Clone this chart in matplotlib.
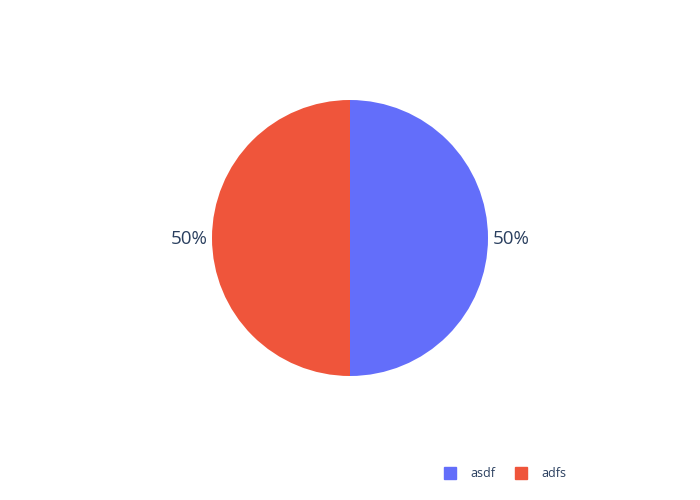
import matplotlib
matplotlib.use("Agg")
import matplotlib.pyplot as plt
from matplotlib.lines import Line2D

labels = ["asdf", "adfs"]
values = [1, 1]
colors = ["#636EFA", "#EF553B"]

plt.rcParams['font.family'] = ['Open Sans', 'DejaVu Sans']

total = sum(values)
pct_labels = [f"{v / total * 100:.0f}%" for v in values]

fig = plt.figure(figsize=(7, 5), dpi=100)
# pie centre (350, 238) px, radius 138 px
ax = fig.add_axes([(350 - 138) / 700, (262 - 138) / 500, 276 / 700, 276 / 500])
wedges, texts = ax.pie(values, colors=colors, startangle=90, counterclock=False,
                       labels=pct_labels, labeldistance=1.035, radius=1,
                       textprops=dict(color="#2a3f5f", fontsize=13.5),
                       wedgeprops=dict(linewidth=0))
for t in texts:
    t.set_va("center")
    x, y = t.get_position()
    t.set_position((x, y - 0.01))
ax.set_xlim(-1, 1)
ax.set_ylim(-1, 1)

handles = [Line2D([], [], marker="s", linestyle="", markersize=9, color=c) for c in colors]
fig.legend(handles, labels, loc="center left", bbox_to_anchor=(444 / 700, 1 - 473.5 / 500),
           ncol=2, frameon=False, fontsize=9, borderpad=0, borderaxespad=0,
           handlelength=1, handletextpad=1.1, columnspacing=1.55,
           labelcolor="#2a3f5f")

plt.savefig("out.png", dpi=100)
